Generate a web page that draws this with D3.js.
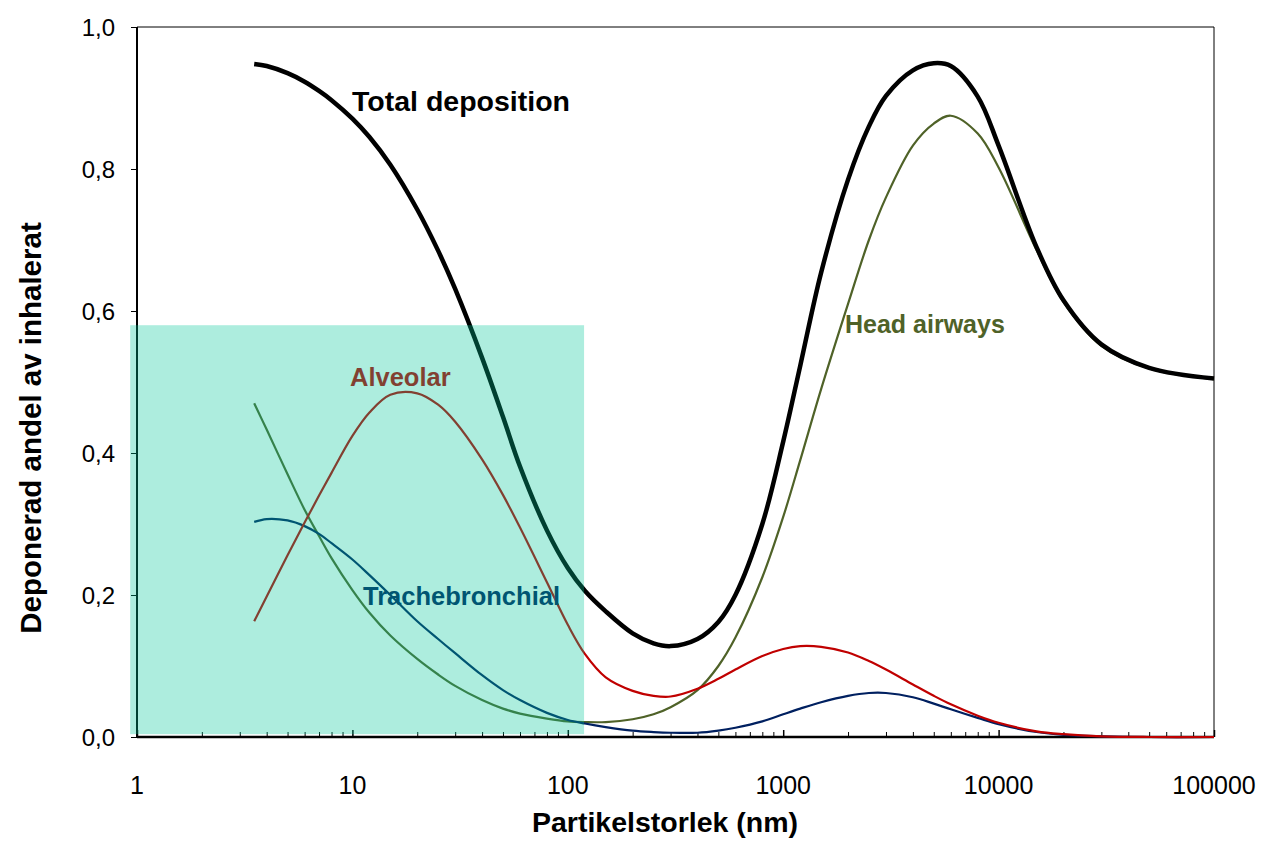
<!DOCTYPE html>
<html>
<head>
<meta charset="utf-8">
<script src="https://cdn.jsdelivr.net/npm/d3@7"></script>
<style>
  html, body { margin: 0; padding: 0; background: #fff; }
  svg { display: block; font-family: Arial, "Liberation Sans", sans-serif; }
</style>
</head>
<body>
<svg id="chart" width="1268" height="843"></svg>
<script>
// ---- Data (particle size in nm, deposited fraction of inhaled) ----
const sizes = [3.5,4,5,6,7,8,10,12,15,20,25,30,40,50,60,80,100,120,150,200,250,300,400,500,600,800,1000,1200,1500,2000,2500,3000,4000,5000,6000,8000,10000,15000,20000,30000,50000,100000];

const totalDeposition = [0.948,0.945,0.935,0.923,0.91,0.897,0.871,0.845,0.806,0.743,0.685,0.631,0.534,0.451,0.381,0.291,0.238,0.206,0.177,0.146,0.132,0.128,0.138,0.162,0.2,0.3,0.416,0.523,0.654,0.785,0.86,0.903,0.939,0.949,0.945,0.902,0.833,0.69,0.615,0.553,0.52,0.505];

const headAirways = [0.47,0.433,0.37,0.32,0.283,0.252,0.207,0.175,0.143,0.11,0.088,0.072,0.052,0.04,0.033,0.026,0.022,0.021,0.021,0.025,0.032,0.042,0.066,0.1,0.14,0.225,0.31,0.39,0.49,0.61,0.7,0.76,0.833,0.864,0.875,0.85,0.802,0.686,0.613,0.551,0.519,0.504];

const alveolar = [0.163,0.198,0.256,0.302,0.34,0.372,0.424,0.457,0.482,0.484,0.468,0.444,0.391,0.341,0.295,0.218,0.158,0.117,0.084,0.065,0.058,0.057,0.068,0.082,0.095,0.114,0.124,0.128,0.127,0.119,0.107,0.095,0.074,0.058,0.046,0.03,0.02,0.008,0.004,0.001,0,0];

const trachebronchial = [0.303,0.307,0.305,0.297,0.286,0.273,0.25,0.228,0.2,0.163,0.138,0.118,0.087,0.066,0.052,0.034,0.024,0.019,0.014,0.009,0.007,0.006,0.006,0.009,0.013,0.022,0.032,0.04,0.049,0.058,0.062,0.062,0.056,0.047,0.039,0.027,0.018,0.007,0.003,0.001,0,0];

const xTicks = [1,10,100,1000,10000,100000];
const xTickLabels = ["1","10","100","1000","10000","100000"];
const yTicks = [0,0.2,0.4,0.6,0.8,1.0];
const yTickLabels = ["0,0","0,2","0,4","0,6","0,8","1,0"];

// highlighted nanoparticle region (nm range, fraction range)
const highlightX = [0.93, 119];
const highlightY = [0.004, 0.58];

const seriesNames = ["Total deposition","Head airways","Alveolar","Trachebronchial"];

// ---- Layout ----
const svg = d3.select("#chart");
const L = 137, R = 1214, T = 27, B = 737;

const x = d3.scaleLog().domain([1, 100000]).range([L, R]);
const y = d3.scaleLinear().domain([0, 1]).range([B, T]);

// frame top and right (thin)
svg.append("line").attr("x1", L).attr("x2", R).attr("y1", T).attr("y2", T)
  .attr("stroke", "#000").attr("stroke-width", 1);
svg.append("line").attr("x1", R).attr("x2", R).attr("y1", T).attr("y2", B)
  .attr("stroke", "#000").attr("stroke-width", 1);

// y axis
const yAxis = d3.axisLeft(y).tickValues(yTicks).tickSize(6).tickFormat("");
const gy = svg.append("g").attr("transform", `translate(${L},0)`).call(yAxis);
gy.select(".domain").attr("stroke", "#000").attr("stroke-width", 2).attr("d", `M0,${T}V${B}`);
gy.selectAll(".tick line").attr("stroke", "#000").attr("stroke-width", 1);
svg.append("g").selectAll("text").data(yTicks).join("text")
  .attr("x", 115).attr("y", d => y(d) + 8.5)
  .attr("text-anchor", "end").attr("font-size", 24).attr("fill", "#000")
  .text((d, i) => yTickLabels[i]);

// x axis: minor ticks pointing inward
const minor = [];
for (let e = 0; e < 5; e++) for (let m = 2; m <= 9; m++) minor.push(m * Math.pow(10, e));
const xAxisMinor = d3.axisTop(x).tickValues(minor).tickSize(5).tickFormat("");
const gxm = svg.append("g").attr("transform", `translate(0,${B})`).call(xAxisMinor);
gxm.select(".domain").remove();
gxm.selectAll(".tick line").attr("stroke", "#000").attr("stroke-width", 1);
const xAxis = d3.axisTop(x).tickValues(xTicks).tickSize(7).tickFormat("");
const gx = svg.append("g").attr("transform", `translate(0,${B})`).call(xAxis);
gx.select(".domain").attr("stroke", "#000").attr("stroke-width", 2.5).attr("d", `M${L},0H${R}`);
gx.selectAll(".tick line").attr("stroke", "#000").attr("stroke-width", 1.5);
svg.append("g").selectAll("text").data(xTicks).join("text")
  .attr("x", d => x(d)).attr("y", 794)
  .attr("text-anchor", "middle").attr("font-size", 25).attr("fill", "#000")
  .text((d, i) => xTickLabels[i]);

// axis titles
svg.append("text").attr("x", 665).attr("y", 832).attr("text-anchor", "middle")
  .attr("font-size", 28.5).attr("font-weight", "bold").text("Partikelstorlek (nm)");
svg.append("text").attr("transform", "translate(41,428) rotate(-90)").attr("text-anchor", "middle")
  .attr("font-size", 29.5).attr("font-weight", "bold").text("Deponerad andel av inhalerat");

// ---- Curves ----
const line = d3.line()
  .x(d => x(d[0])).y(d => y(d[1]))
  .curve(d3.curveCatmullRom.alpha(0.5));

const series = [
  { name: seriesNames[1], values: headAirways, color: "#4F6228", width: 2.2 },
  { name: seriesNames[3], values: trachebronchial, color: "#002060", width: 2.2 },
  { name: seriesNames[2], values: alveolar, color: "#C00000", width: 2.2 },
  { name: seriesNames[0], values: totalDeposition, color: "#000000", width: 4.5 }
];
svg.append("g").selectAll("path").data(series).join("path")
  .attr("d", s => line(sizes.map((v, i) => [v, s.values[i]])))
  .attr("fill", "none").attr("stroke", s => s.color).attr("stroke-width", s => s.width)
  .attr("stroke-linejoin", "round");

// series labels
const labels = [
  { text: seriesNames[0], x: 352, y: 111, color: "#000000", size: 28.5 },
  { text: seriesNames[2], x: 350, y: 386, color: "#C00000", size: 25.5 },
  { text: seriesNames[3], x: 363, y: 605, color: "#002060", size: 25.5 },
  { text: seriesNames[1], x: 845, y: 333, color: "#4F6228", size: 25 }
];
svg.append("g").selectAll("text").data(labels).join("text")
  .attr("x", d => d.x).attr("y", d => d.y).attr("fill", d => d.color)
  .attr("font-size", d => d.size).attr("font-weight", "bold").text(d => d.text);

// translucent highlight over the nanoparticle range
svg.append("rect")
  .attr("x", x(highlightX[0])).attr("y", y(highlightY[1]))
  .attr("width", x(highlightX[1]) - x(highlightX[0]))
  .attr("height", y(highlightY[0]) - y(highlightY[1]))
  .attr("fill", "rgb(0,199,152)").attr("fill-opacity", 0.32);
</script>
</body>
</html>
